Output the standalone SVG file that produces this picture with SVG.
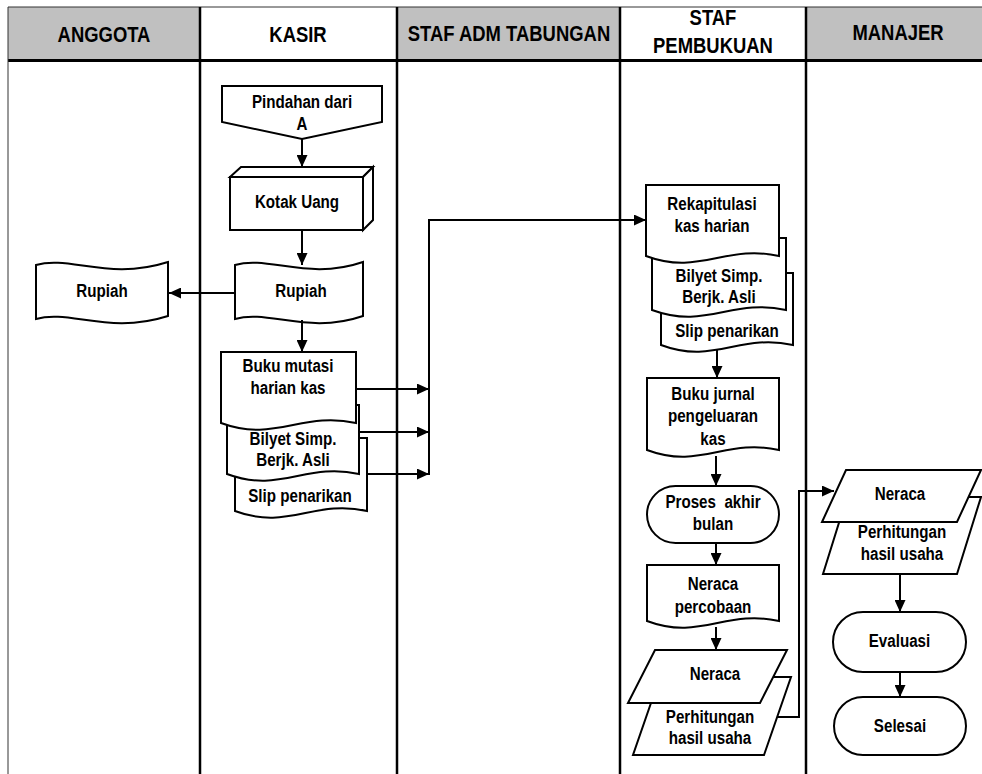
<svg xmlns="http://www.w3.org/2000/svg" width="982" height="774" viewBox="0 0 982 774">
  <style>
    text { font-family: "Liberation Sans", Arial, sans-serif; font-weight: bold; fill: #000; text-anchor: middle; }
    .hd { font-size: 22.5px; }
    .tx { font-size: 18.5px; white-space: pre; }
    .shape { fill: #fff; stroke: #000; stroke-width: 2; stroke-linejoin: miter; }
    .lane { stroke: #000; stroke-width: 2.5; fill: none; }
    .conn { stroke: #000; stroke-width: 2; fill: none; }
    .gray { fill: #c0c0c0; }
  </style>
  <defs>
    <marker id="arrow" markerUnits="userSpaceOnUse" markerWidth="13" markerHeight="11" refX="12" refY="5.5" orient="auto">
      <path d="M0,0 L12,5.5 L0,11 Z" fill="#000"/>
    </marker>
  </defs>

  <!-- lane header row; labels are narrowed horizontally to a condensed face -->
  <g id="header">
    <rect x="8" y="7" width="192" height="53" class="gray"/>
    <rect x="200" y="7" width="197" height="53" fill="#fff"/>
    <rect x="397" y="7" width="223" height="53" class="gray"/>
    <rect x="620" y="7" width="186" height="53" fill="#fff"/>
    <rect x="806" y="7" width="176" height="53" class="gray"/>
    <line x1="8" y1="7" x2="982" y2="7" stroke="#333" stroke-width="1"/>
    <line x1="8" y1="60.5" x2="982" y2="60.5" stroke="#000" stroke-width="3"/>
    <text class="hd" transform="translate(104,42) scale(0.82,1)">ANGGOTA</text>
    <text class="hd" transform="translate(298,42) scale(0.82,1)">KASIR</text>
    <text class="hd" transform="translate(509,41) scale(0.82,1)">STAF ADM TABUNGAN</text>
    <text class="hd" transform="translate(713,25) scale(0.82,1)">STAF</text>
    <text class="hd" transform="translate(713,53) scale(0.82,1)">PEMBUKUAN</text>
    <text class="hd" transform="translate(898,40) scale(0.82,1)">MANAJER</text>
  </g>

  <!-- lane dividers -->
  <g id="lanes">
    <line x1="8" y1="7" x2="8" y2="774" stroke="#333" stroke-width="1"/>
    <line class="lane" x1="200" y1="7" x2="200" y2="774"/>
    <line class="lane" x1="397" y1="7" x2="397" y2="774"/>
    <line class="lane" x1="620" y1="7" x2="620" y2="774"/>
    <line class="lane" x1="806" y1="7" x2="806" y2="774"/>
  </g>

  <!-- KASIR -->
  <g id="pindahan">
    <path class="shape" d="M222,86 H382 V122 L302,139 L222,122 Z"/>
    <text class="tx" transform="translate(302,108) scale(0.82,1)">Pindahan dari</text>
    <text class="tx" transform="translate(302,130) scale(0.82,1)">A</text>
  </g>
  <g id="kotak-uang">
    <path class="shape" d="M230,177 L241,167 H373 L363,177 Z"/>
    <path class="shape" d="M363,177 L373,167 V220 L363,230 Z"/>
    <rect class="shape" x="230" y="177" width="133" height="53"/>
    <text class="tx" transform="translate(297,208) scale(0.82,1)">Kotak Uang</text>
  </g>
  <g id="rupiah-kasir">
    <path class="shape" d="M235,265 C268,255 308,281 363,262 V316 C308,335 268,309 235,319 Z"/>
    <text class="tx" transform="translate(301,297) scale(0.82,1)">Rupiah</text>
  </g>
  <g id="rupiah-anggota">
    <path class="shape" d="M36,265 C69,255 109,281 168,262 V316 C109,335 69,309 36,319 Z"/>
    <text class="tx" transform="translate(102,297) scale(0.82,1)">Rupiah</text>
  </g>
  <g id="slip-kasir">
    <path class="shape" d="M235,438 H367 V511 C314,499 288,531 235,511 Z"/>
    <text class="tx" transform="translate(300,502) scale(0.82,1)">Slip penarikan</text>
  </g>
  <g id="bilyet-kasir">
    <path class="shape" d="M227,405 H359 V474 C306,462 280,494 227,474 Z"/>
    <text class="tx" transform="translate(293,445) scale(0.82,1)">Bilyet Simp.</text>
    <text class="tx" transform="translate(293,466) scale(0.82,1)">Berjk. Asli</text>
  </g>
  <g id="buku-mutasi">
    <path class="shape" d="M221,352 H356 V423 C302,411 275,443 221,423 Z"/>
    <text class="tx" transform="translate(288,372) scale(0.82,1)">Buku mutasi</text>
    <text class="tx" transform="translate(288,394) scale(0.82,1)">harian kas</text>
  </g>

  <!-- STAF PEMBUKUAN -->
  <g id="slip-pembukuan">
    <path class="shape" d="M661,273 H793 V345 C740,333 714,365 661,345 Z"/>
    <text class="tx" transform="translate(727,337) scale(0.82,1)">Slip penarikan</text>
  </g>
  <g id="bilyet-pembukuan">
    <path class="shape" d="M652,238 H786 V310 C732,298 706,330 652,310 Z"/>
    <text class="tx" transform="translate(719,282) scale(0.82,1)">Bilyet Simp.</text>
    <text class="tx" transform="translate(719,303) scale(0.82,1)">Berjk. Asli</text>
  </g>
  <g id="rekapitulasi">
    <path class="shape" d="M646,185 H779 V256 C726,244 699,276 646,256 Z"/>
    <text class="tx" transform="translate(712,210) scale(0.82,1)">Rekapitulasi</text>
    <text class="tx" transform="translate(712,232) scale(0.82,1)">kas harian</text>
  </g>
  <g id="buku-jurnal">
    <path class="shape" d="M647,378 H779 V450 C726,438 700,470 647,450 Z"/>
    <text class="tx" transform="translate(713,400) scale(0.82,1)">Buku jurnal</text>
    <text class="tx" transform="translate(713,422) scale(0.82,1)">pengeluaran</text>
    <text class="tx" transform="translate(713,445) scale(0.82,1)">kas</text>
  </g>
  <g id="proses-akhir">
    <rect class="shape" x="647" y="486" width="132" height="57" rx="28.5"/>
    <text class="tx" transform="translate(713,508) scale(0.82,1)">Proses  akhir</text>
    <text class="tx" transform="translate(713,530) scale(0.82,1)">bulan</text>
  </g>
  <g id="neraca-percobaan">
    <path class="shape" d="M647,565 H779 V621 C726,609 700,641 647,621 Z"/>
    <text class="tx" transform="translate(713,590) scale(0.82,1)">Neraca</text>
    <text class="tx" transform="translate(713,613) scale(0.82,1)">percobaan</text>
  </g>
  <g id="perhitungan-pembukuan">
    <path class="shape" d="M660,677 H791 L764,755 H633 Z"/>
    <text class="tx" transform="translate(710,723) scale(0.82,1)">Perhitungan</text>
    <text class="tx" transform="translate(710,744) scale(0.82,1)">hasil usaha</text>
  </g>
  <g id="neraca-pembukuan">
    <path class="shape" d="M655,650 H787 L760,703 H628 Z"/>
    <text class="tx" transform="translate(715,680) scale(0.82,1)">Neraca</text>
  </g>

  <!-- MANAJER -->
  <g id="perhitungan-manajer">
    <path class="shape" d="M847,497 H981 L957,574 H823 Z"/>
    <text class="tx" transform="translate(902,538) scale(0.82,1)">Perhitungan</text>
    <text class="tx" transform="translate(902,560) scale(0.82,1)">hasil usaha</text>
  </g>
  <g id="neraca-manajer">
    <path class="shape" d="M846,470 H981 L957,522 H822 Z"/>
    <text class="tx" transform="translate(900,500) scale(0.82,1)">Neraca</text>
  </g>
  <g id="evaluasi">
    <rect class="shape" x="833" y="612" width="133" height="60" rx="30"/>
    <text class="tx" transform="translate(899.5,647) scale(0.82,1)">Evaluasi</text>
  </g>
  <g id="selesai">
    <rect class="shape" x="834" y="697" width="132" height="58" rx="29"/>
    <text class="tx" transform="translate(900,732) scale(0.82,1)">Selesai</text>
  </g>

  <!-- connectors -->
  <g id="connectors" class="conn">
    <line x1="302" y1="139" x2="302" y2="167" marker-end="url(#arrow)"/>
    <line x1="302" y1="230" x2="302" y2="265" marker-end="url(#arrow)"/>
    <line x1="235" y1="293" x2="169" y2="293" marker-end="url(#arrow)"/>
    <line x1="302" y1="320" x2="302" y2="352" marker-end="url(#arrow)"/>
    <line x1="356" y1="389" x2="429" y2="389" marker-end="url(#arrow)"/>
    <line x1="359" y1="432" x2="429" y2="432" marker-end="url(#arrow)"/>
    <line x1="367" y1="474" x2="429" y2="474" marker-end="url(#arrow)"/>
    <polyline points="429,475 429,220 646,220" marker-end="url(#arrow)"/>
    <line x1="717" y1="349" x2="717" y2="378" marker-end="url(#arrow)"/>
    <line x1="716" y1="456" x2="716" y2="486" marker-end="url(#arrow)"/>
    <line x1="716" y1="543" x2="716" y2="565" marker-end="url(#arrow)"/>
    <line x1="716" y1="627" x2="716" y2="650" marker-end="url(#arrow)"/>
    <polyline points="777,717 799,717 799,491 834,491" marker-end="url(#arrow)"/>
    <line x1="900" y1="574" x2="900" y2="612" marker-end="url(#arrow)"/>
    <line x1="900" y1="672" x2="900" y2="697" marker-end="url(#arrow)"/>
  </g>
</svg>
